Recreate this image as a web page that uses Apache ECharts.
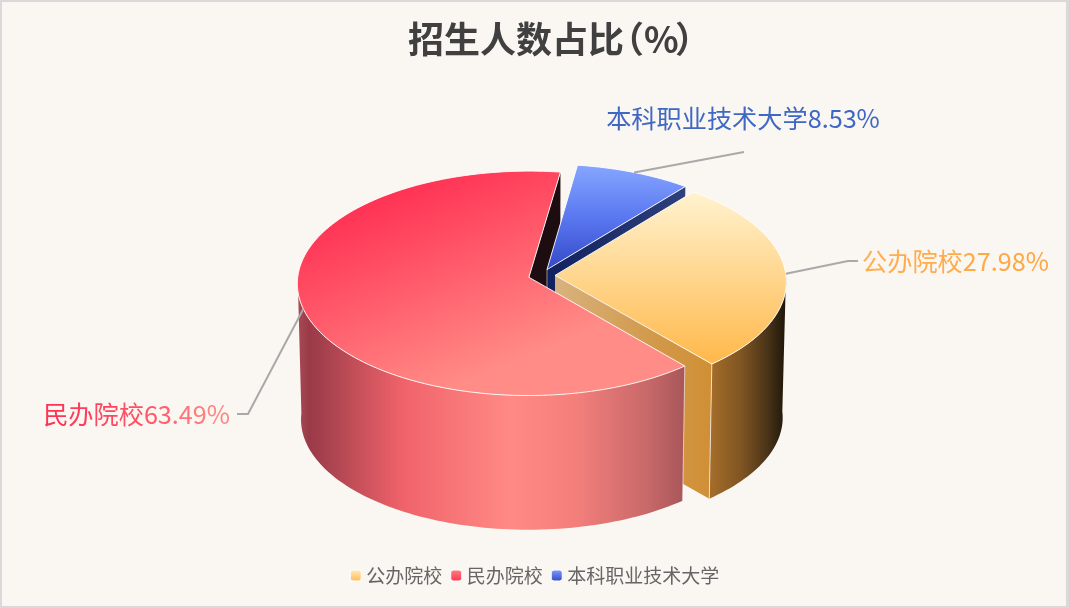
<!DOCTYPE html>
<html><head><meta charset="utf-8">
<style>html,body{margin:0;padding:0;background:#faf6f1;overflow:hidden}
#c{position:absolute;left:0;top:0;width:1069px;height:608px}
#f{position:absolute;left:0;top:0;width:1069px;height:608px;box-sizing:border-box;border:solid #d9d9d9;border-width:2px 3px 2px 2px;pointer-events:none}</style>
<script src="https://cdn.jsdelivr.net/npm/echarts@6/dist/echarts.min.js"></script>
</head><body><div id="c"></div><div id="f"></div>
<script>
const categories = ['公办院校', '民办院校', '本科职业技术大学'];
const shares = [27.98, 63.49, 8.53];
const titleParts = ['招生人数占比', '（', '%', '）'];

const FONT = '"Noto Sans CJK SC","Noto Sans",sans-serif';
const L = {cx: 541.7, cy: 275.5, rx: 231, ry: 111.7, k: 0.0535, explode: 13.3,
  baseScale: 0.985, baseY: 411.5, startDeg: -51.2};
const total = shares.reduce((a, b) => a + b, 0);
const rad = d => d * Math.PI / 180;
let acc = L.startDeg;
const spans = shares.map(v => { const a = acc, b = acc + v / total * 360; acc = b; return [a, b]; });

// Plane coords → screen: (u, v) in radius units, v > 0 toward viewer
function proj(u, v, base) {
  const s = 1 / (1 - L.k * v);
  const x = L.rx * u * s, y = L.ry * v * s;
  return base ? [L.cx + x * L.baseScale, L.baseY + y * L.baseScale] : [L.cx + x, L.cy + y];
}
function pt(i, r, deg, base) {
  const [a, b] = spans[i], m = rad((a + b) / 2), e = L.explode / L.rx;
  return proj(e * Math.cos(m) + r * Math.cos(rad(deg)), e * Math.sin(m) + r * Math.sin(rad(deg)), base);
}
function arc(i, from, to, base) {
  const out = [], n = Math.max(2, Math.ceil(Math.abs(to - from) / 1.5));
  for (let j = 0; j <= n; j++) out.push(pt(i, 1, from + (to - from) * j / n, base));
  return out;
}
const grad = (x0, y0, x1, y1, stops) => new echarts.graphic.LinearGradient(x0, y0, x1, y1,
  stops.map(s => ({offset: s[0], color: s[1]})), true);
const poly = (points, fill, z2, stroke) => ({type: 'polygon', shape: {points}, z2, silent: true,
  style: {fill, stroke: stroke || null, lineWidth: stroke ? 1 : 0}});
const edge = (points, z2, o) => ({type: 'polyline', shape: {points}, z2, silent: true,
  style: {fill: null, stroke: 'rgba(255,255,255,' + (o || 0.9) + ')', lineWidth: 1}});

const lerp = (c1, c2, t) => '#' + [0, 1, 2].map(i => {
  const a = parseInt(c1.substr(1 + 2 * i, 2), 16), b = parseInt(c2.substr(1 + 2 * i, 2), 16);
  return Math.round(a + (b - a) * t).toString(16).padStart(2, '0');
}).join('');

// per-slice styling
const look = [
  {top: s => grad(0, s.minY, 0, s.maxY, [[0, '#fff3cf'], [1, '#ffb84a']]),
   legend: ['#ffecc0', '#ffbb55'], label: ['#ffae50', '#ffa640']},
  {top: s => grad(472, 161, 549, 347, [[0, '#ff3355'], [1, '#ff8c86']]),
   legend: ['#ff8080', '#ff3355'], label: ['#ff3355', '#ff8683']},
  {top: s => grad(0, s.minY, 0, s.maxY, [[0, '#86a6ff'], [0.5, '#5a78f0'], [1, '#3548c8']]),
   legend: ['#7f9fff', '#3348c4'], label: ['#3f67c4', '#3f67c4']}
];
// label placement: elbow from the rim to the text
const labelPlace = [
  {elbow: [848, 261], end: [858, 261], text: [862, 261], align: 'left'},
  {elbow: [248, 414], end: [237, 414], text: [230, 414], align: 'right'},
  {elbow: [744, 152], end: null, text: [743, 118], align: 'center'}
];

function buildItem(i) {
  const [a, b] = spans[i], ch = [];
  const rim = arc(i, a, b, false);
  const ys = rim.map(p => p[1]).concat(pt(i, 0, 0, false)[1]);
  const apexT = pt(i, 0, 0, false), apexB = pt(i, 0, 0, true);
  const st = {minY: Math.min.apply(null, ys), maxY: Math.max.apply(null, ys)};
  const A = rim[0], B = rim[rim.length - 1];
  const sA = pt(i, 1, a, true), sB = pt(i, 1, b, true);
  if (i === 0) {
    const from = 0, top = arc(i, from, b, false), bot = arc(i, from, b, true).reverse();
    ch.push(poly(top.concat(bot), grad(B[0], 0, B[0] + 74, 0,
      [[0, '#a36c2a'], [0.4, '#7f5522'], [0.75, '#4a3418'], [1, '#1e1608']]), 22));
    ch.push(poly([apexT, B, sB, apexB], grad(apexT[0], 0, B[0], 0,
      [[0, '#d8b27e'], [0.6, '#d29a4c'], [1, '#d08f35']]), 21));
    ch.push(edge([B, sB], 24, 0.7));
    ch.push(poly([apexT].concat(rim), look[0].top(st), 30));
    ch.push(edge([apexT].concat(rim).concat([apexT]), 31));
  } else if (i === 1) {
    ch.push(poly([apexT, B, sB, apexB], '#1e0d10', 5));
    const to = 180, top = arc(i, a, to, false), bot = arc(i, a, to, true).reverse();
    const xl = pt(i, 1, 180, false)[0];
    ch.push(poly(top.concat(bot), grad(xl, 0, A[0], 0,
      [[0, '#a84a55'], [0.03, '#9a3a48'], [0.12, '#b84a55'], [0.27, '#f0626a'], [0.55, '#ff8a85'], [0.72, '#f37f7b'], [0.9, '#c9696a'], [1, '#a8565a']]), 45));
    ch.push(edge([A, sA], 47, 0.6));
    ch.push(poly([apexT].concat(rim), look[1].top(st), 50));
    ch.push(edge([apexT].concat(rim).concat([apexT]), 51));
  } else {
    ch.push(poly([apexT, B, sB, apexB], grad(apexT[0], 0, B[0], 0,
      [[0, '#11205f'], [1, '#2f417c']]), 10));
    ch.push(edge([apexT, apexB], 11, 0.5));
    ch.push(poly([apexT].concat(rim), look[2].top(st), 12));
    ch.push(edge([apexT].concat(rim).concat([apexT]), 13));
  }
  const mid = (a + b) / 2, anchor = pt(i, 1, mid, false), lp = labelPlace[i];
  ch.push({type: 'polyline', shape: {points: [anchor, lp.elbow].concat(lp.end ? [lp.end] : [])}, z2: 60, silent: true,
    style: {fill: null, stroke: '#a9a9a9', lineWidth: 2}});
  const txt = categories[i] + shares[i].toFixed(2) + '%';
  const rich = {}, chars = Array.from(txt);
  let s = '';
  chars.forEach((c, j) => {
    rich['c' + j] = {fill: lerp(look[i].label[0], look[i].label[1], j / (chars.length - 1)),
      fontSize: 25.2, fontFamily: FONT, lineHeight: 30};
    s += '{c' + j + '|' + c + '}';
  });
  ch.push({type: 'text', z2: 61, silent: true, style: {text: s, rich, x: lp.text[0], y: lp.text[1],
    align: lp.align, verticalAlign: 'middle', fontSize: 25.2, fontFamily: FONT}});
  return {type: 'group', children: ch};
}

const series = categories.map((name, i) => ({
  type: 'custom', name, coordinateSystem: 'none', clip: false, silent: true,
  itemStyle: {color: {type: 'linear', x: 0, y: 0, x2: 0, y2: 1,
    colorStops: [{offset: 0, color: look[i].legend[0]}, {offset: 1, color: look[i].legend[1]}]}},
  data: [{name, value: shares[i]}],
  renderItem: () => buildItem(i)
}));

const titleStyle = {fontSize: 36, fontWeight: 'bold', color: '#404040', fontFamily: FONT};
const chart = echarts.init(document.getElementById('c'), null, {renderer: 'canvas'});
chart.setOption({
  animation: false,
  backgroundColor: '#faf6f1',
  title: {text: '{a|' + titleParts[0] + '}{b|' + titleParts[1] + '}{c|' + titleParts[2] + '}{d|' + titleParts[3] + '}',
    left: 403, top: 16,
    textStyle: Object.assign({}, titleStyle, {rich: {
      a: Object.assign({}, titleStyle, {width: 200}),
      b: Object.assign({}, titleStyle, {width: 36}),
      c: Object.assign({}, titleStyle, {width: 31}),
      d: Object.assign({}, titleStyle)
    }})},
  legend: {data: categories, bottom: 18, left: 'center', itemWidth: 11, itemHeight: 11, itemGap: 8,
    itemStyle: {borderColor: '#ffffff', borderWidth: 1},
    textStyle: {fontSize: 19, color: '#666666', fontFamily: FONT}},
  series
});
</script></body></html>
